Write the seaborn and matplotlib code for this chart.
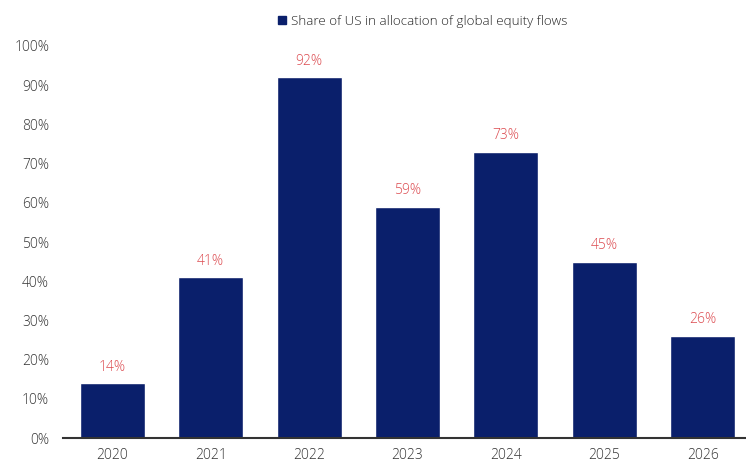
import matplotlib
matplotlib.use("Agg")
import matplotlib.pyplot as plt
import seaborn as sns
import pandas as pd
from matplotlib.patches import Patch

years = ["2020", "2021", "2022", "2023", "2024", "2025", "2026"]
share_us = [14, 41, 92, 59, 73, 45, 26]
series_name = "Share of US in allocation of global equity flows"
y_ticks = [0, 10, 20, 30, 40, 50, 60, 70, 80, 90, 100]

navy = "#0A1F6B"
label_red = "#DC4A4F"
tick_grey = "#333333"

sns.set_theme(style="white")
plt.rcParams["font.family"] = ["Open Sans", "DejaVu Sans"]
plt.rcParams["font.weight"] = "light"

df = pd.DataFrame({"year": years, "share": share_us})

fig = plt.figure(figsize=(7.46, 4.67), dpi=100)
ax = fig.add_axes([0.0845, 0.062, 0.9155, 0.8395])

sns.barplot(data=df, x="year", y="share", color=navy, width=0.66,
            saturation=1, ax=ax)

for i, v in enumerate(share_us):
    ax.text(i, v + 2.2, f"{v}%", ha="center", va="bottom",
            color=label_red, fontsize=10, fontweight="light")

ax.set_ylim(0, 100)
ax.set_xlim(-0.5, 6.44)
ax.set_yticks(y_ticks)
ax.set_yticklabels([f"{t}%" for t in y_ticks], fontweight="light")
ax.set_xticks(range(len(years)))
ax.set_xticklabels(years, fontweight="light")
ax.set_xlabel("")
ax.set_ylabel("")
ax.tick_params(axis="both", length=0, labelsize=10, colors=tick_grey)
ax.tick_params(axis="y", pad=10)
ax.tick_params(axis="x", pad=7)

for side in ["top", "right", "left"]:
    ax.spines[side].set_visible(False)
ax.spines["bottom"].set_color("#333333")
ax.spines["bottom"].set_linewidth(1.5)

handle = Patch(facecolor=navy, edgecolor=navy, label=series_name)
fig.legend(handles=[handle], loc="center", bbox_to_anchor=(0.567, 0.955),
           frameon=False, prop={"size": 9.6, "weight": "light"},
           handlelength=0.6, handleheight=0.6,
           handletextpad=0.4, labelcolor="#222222")

fig.savefig("out.png", dpi=100)
